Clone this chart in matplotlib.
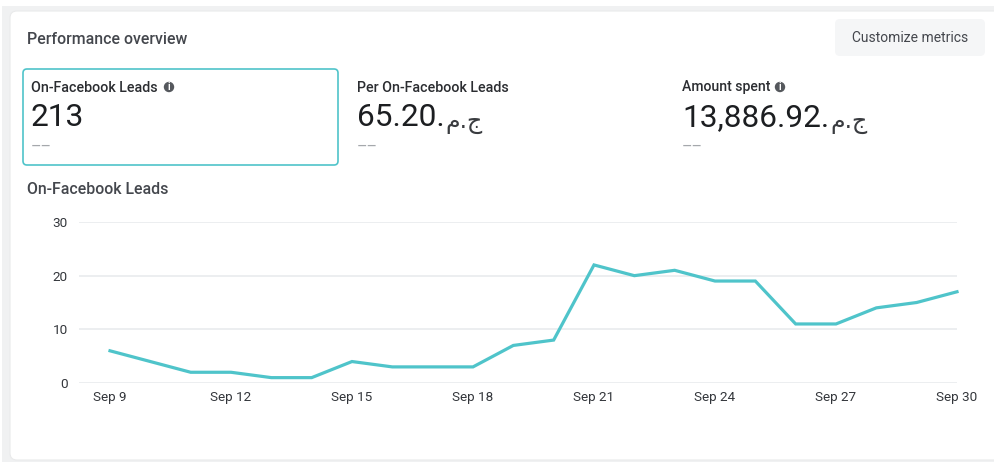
import numpy as np
import matplotlib
matplotlib.use('Agg')
import matplotlib.pyplot as plt
from matplotlib.patches import FancyBboxPatch, Rectangle, Circle

plt.rcParams['font.family'] = ['Roboto', 'DejaVu Sans']

days = list(range(9, 31))
leads = [6, 4, 2, 2, 1, 1, 4, 3, 3, 3, 7, 8, 22, 20, 21, 19, 19, 11, 11, 14, 15, 17]
tick_days = [9, 12, 15, 18, 21, 24, 27, 30]
y_ticks = [0, 10, 20, 30]

metric_names = ['On-Facebook Leads', 'Per On-Facebook Leads', 'Amount spent']
metric_values = ['213', '65.20.', '13,886.92.']
metric_units = ['', 'م.ج', 'م.ج']
metric_x = [31, 357, 682]

TEAL = '#4fc4ca'
DARK = '#1c1e21'
GREY = '#44474d'

W, H = 994, 462
fig = plt.figure(figsize=(W / 100, H / 100), dpi=100, facecolor='white')

# page layer in pixel coordinates
bg = fig.add_axes([0, 0, 1, 1])
bg.set_xlim(0, W)
bg.set_ylim(H, 0)
bg.axis('off')
bg.add_patch(Rectangle((2, 6), W - 2, 456, fc='#f0f1f2', ec='none'))
bg.add_patch(FancyBboxPatch((10, 11), W, 449, boxstyle='round,pad=0,rounding_size=7',
                            fc='white', ec='#e9eaeb', lw=0.8))

bg.text(27, 39, 'Performance overview', fontsize=11.4, fontweight='medium', color=GREY, va='center')

# button
bg.add_patch(FancyBboxPatch((835, 19), 150, 37, boxstyle='round,pad=0,rounding_size=5',
                            fc='#f5f6f7', ec='none'))
bg.text(910, 38, 'Customize metrics', fontsize=10, color=GREY, va='center', ha='center')

# selected metric box
bg.add_patch(FancyBboxPatch((23, 69), 315, 96, boxstyle='round,pad=0,rounding_size=4',
                            fc='white', ec=TEAL, lw=1.2))

renderer = fig.canvas.get_renderer()
for x, name, val, unit in zip(metric_x, metric_names, metric_values, metric_units):
    bg.text(x, 87.5, name, fontsize=10.3 if x != 682 else 10.1, fontweight='medium', color='#2b2d31', va='center')
    t = bg.text(x, 117.5, val, fontsize=22.8, color=DARK, va='center')
    if unit:
        # currency sits right after the number, in a smaller face
        end = t.get_window_extent(renderer).x1
        bg.text(end + 1, 122, unit, fontsize=17, family='DejaVu Sans', color='#3a3c40', va='center')
    bg.text(x, 147.5, '––', fontsize=11.5, color='#a5a8ac', va='center')

# info icons
for cx in [169, 780]:
    bg.add_patch(Circle((cx, 87), 5.2, fc='#55585d', ec='none'))
    bg.text(cx, 87, 'i', fontsize=7, fontweight='bold', color='white', ha='center', va='center')

bg.text(27, 189, 'On-Facebook Leads', fontsize=11.4, fontweight='medium', color=GREY, va='center')

# chart
left, right, top, bottom = 79, 957, 222, 383
ax = fig.add_axes([left / W, 1 - bottom / H, (right - left) / W, (bottom - top) / H])
ax.patch.set_alpha(0)
px_per_day = (957 - 110) / 21
ax.set_xlim(9 - (110 - left) / px_per_day, 30)
ax.set_ylim(0, 30)
ax.plot(days, leads, color=TEAL, lw=2.3, solid_joinstyle='miter', clip_on=False, zorder=3)
ax.set_yticks(y_ticks)
ax.set_xticks(tick_days)
ax.set_xticklabels(['Sep %d' % d for d in tick_days])
ax.grid(axis='y', color='#e9ebee', lw=1.2)
ax.set_axisbelow(True)
for s in ax.spines.values():
    s.set_visible(False)
ax.tick_params(axis='both', length=0, labelsize=9.7, labelcolor='#33363b')
ax.tick_params(axis='x', pad=6)
ax.tick_params(axis='y', pad=8)

fig.savefig('out.png', dpi=100)
